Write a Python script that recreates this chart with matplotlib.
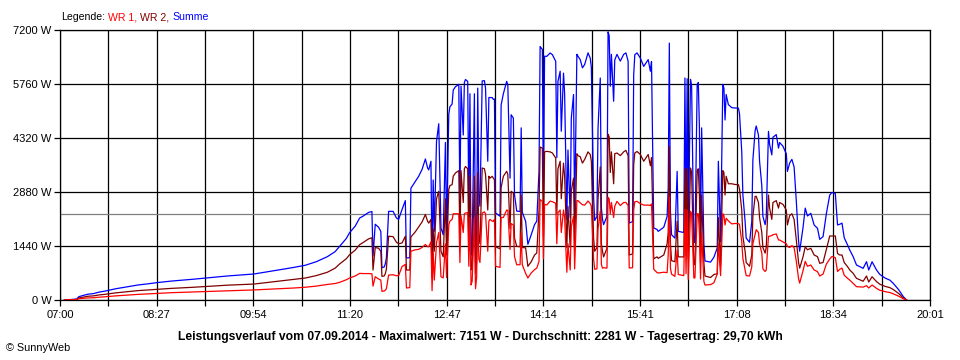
import numpy as np
import matplotlib
matplotlib.use("Agg")
import matplotlib.pyplot as plt

plt.rcParams['font.family'] = ['Liberation Sans', 'DejaVu Sans']

# Minuten nach 07:00
minuten = [
    4, 15, 17, 25, 30, 35, 40, 50, 60, 70,
    80, 87, 100, 120, 133, 150, 174, 190, 200, 210,
    220, 230, 240, 247, 251, 257, 260, 265, 269, 272,
    277, 280, 281, 283, 286, 288, 289, 291, 292, 293,
    295, 299, 302, 304, 307, 310, 311, 314, 315, 319,
    322, 325, 328, 330, 331, 333, 334, 335, 336, 338,
    340, 342, 344, 346, 347, 349, 350, 352, 353, 355,
    358, 359, 360, 362, 363, 364, 366, 367, 368, 369,
    370, 372, 373, 374, 375, 376, 377, 379, 381, 382,
    384, 385, 386, 388, 389, 390, 391, 395, 396, 398,
    401, 402, 404, 405, 407, 408, 410, 413, 414, 415,
    418, 420, 423, 426, 428, 430, 431, 433, 434, 435,
    437, 440, 442, 445, 446, 447, 449, 450, 452, 453,
    455, 456, 458, 459, 461, 462, 464, 465, 467, 469,
    471, 473, 474, 476, 477, 479, 480, 482, 483, 485,
    486, 487, 488, 491, 492, 493, 494, 495, 497, 498,
    500, 503, 506, 508, 510, 511, 514, 515, 516, 518,
    521, 524, 528, 530, 531, 533, 536, 537, 542, 545,
    546, 547, 548, 549, 552, 554, 555, 560, 561, 562,
    563, 564, 566, 567, 569, 570, 572, 573, 574, 575,
    576, 578, 579, 584, 587, 590, 591, 593, 595, 596,
    597, 598, 600, 603, 606, 609, 610, 612, 613, 615,
    616, 619, 621, 622, 624, 625, 627, 628, 630, 631,
    633, 634, 636, 637, 639, 640, 643, 645, 646, 649,
    652, 653, 655, 657, 659, 661, 663, 664, 667, 669,
    671, 674, 677, 680, 682, 685, 688, 691, 693, 696,
    698, 700, 702, 704, 707, 709, 712, 715, 718, 721,
    724, 726, 729, 733, 736, 741, 745, 748, 753, 757, 760,
]

# WR 2 (dunkelrot), Watt
wr2 = [
    0, 15, 55, 100, 110, 135, 150, 190, 220, 250,
    270, 285, 310, 340, 365, 395, 425, 480, 515, 550,
    585, 650, 740, 850, 960, 1100, 1209, 1330, 1476, 1530,
    1630, 1660, 800, 1400, 1380, 1300, 631, 640, 700, 820,
    1700, 1690, 1540, 1500, 1520, 1700, 800, 800, 1680, 1820,
    1950, 2080, 2280, 2100, 2050, 2150, 600, 1900, 1300, 2700,
    2900, 1300, 1150, 2700, 1200, 2950, 3050, 3076, 3300, 3387,
    3450, 1600, 3450, 2600, 3500, 3560, 3500, 1400, 3300, 800,
    900, 3300, 700, 1000, 3400, 1700, 1500, 3520, 3500, 3350,
    2400, 3300, 3250, 3298, 3250, 3210, 1420, 1364, 3000, 3300,
    3431, 3350, 1900, 2900, 2850, 1650, 1431, 1420, 2800, 1400,
    1390, 898, 1020, 1200, 1253, 2400, 4080, 4050, 1700, 3950,
    3964, 3950, 3920, 3787, 2300, 3500, 3700, 2700, 3650, 3300,
    1400, 2500, 1400, 2900, 3250, 1400, 3900, 3850, 3820, 3650,
    3750, 3880, 3950, 3880, 3700, 1650, 1300, 1400, 2700, 3550,
    1500, 1300, 1150, 1380, 4420, 4350, 3400, 3950, 3100, 3900,
    3920, 3850, 3950, 3990, 3850, 1200, 1230, 3600, 3920, 3960,
    3880, 3700, 3880, 3580, 3800, 1100, 1150, 1110, 1200, 1500,
    1800, 4100, 1500, 1050, 1020, 2100, 1150, 1150, 3500, 1200,
    3500, 1100, 3520, 3400, 942, 950, 3450, 3500, 2800, 1000,
    2800, 1000, 640, 600, 680, 700, 2200, 900, 3450, 3400,
    2800, 3300, 3100, 3100, 3080, 3076, 2960, 2400, 1700, 1300,
    1000, 900, 1200, 2231, 2764, 2764, 2600, 2200, 1800, 1400,
    1250, 1400, 2800, 2450, 2150, 2600, 2650, 2450, 2600, 2550,
    2400, 2000, 2250, 2300, 2150, 1600, 1000, 850, 1150, 1420,
    1340, 1378, 1200, 1156, 978, 1000, 1350, 1707, 1707, 1707,
    1240, 1200, 1200, 1000, 889, 800, 711, 578, 540, 500,
    640, 480, 620, 490, 420, 360, 330, 280, 170, 55, 0,
]

# WR 1 (rot), Watt
wr1 = [
    0, 10, 35, 55, 60, 75, 85, 110, 130, 150,
    165, 178, 195, 215, 228, 245, 268, 290, 305, 320,
    340, 370, 415, 440, 470, 540, 587, 640, 710, 705,
    705, 700, 370, 620, 560, 530, 230, 240, 260, 300,
    664, 674, 647, 650, 890, 950, 320, 330, 1300, 1340,
    1350, 1400, 1480, 1420, 1420, 1550, 250, 1300, 530, 1530,
    1800, 620, 590, 1500, 600, 2000, 2100, 2150, 2300, 2300,
    2300, 1000, 2250, 1800, 2300, 2320, 2330, 900, 2200, 400,
    500, 2200, 300, 600, 2250, 1100, 1000, 2320, 2350, 2300,
    1300, 2100, 2150, 2100, 2100, 2150, 900, 870, 2200, 2200,
    2400, 2390, 1350, 2040, 2000, 1160, 940, 940, 1790, 940,
    710, 587, 720, 809, 850, 1031, 2680, 2630, 1100, 2550,
    2534, 2637, 2622, 2577, 1500, 2330, 2400, 1800, 2400, 2200,
    740, 1500, 800, 1950, 2230, 830, 2650, 2650, 2590, 2540,
    2530, 2600, 2640, 2570, 2500, 1100, 820, 830, 1890, 2370,
    950, 850, 860, 850, 2731, 2700, 2300, 2600, 2200, 2500,
    2630, 2520, 2600, 2600, 2520, 853, 860, 2400, 2620, 2630,
    2570, 2530, 2530, 2520, 2560, 820, 730, 720, 740, 730,
    1200, 2750, 850, 690, 630, 1330, 680, 650, 2420, 700,
    2400, 550, 2364, 2300, 587, 590, 2300, 2300, 1800, 560,
    1790, 500, 400, 410, 460, 690, 1500, 650, 2300, 2250,
    2000, 2180, 2110, 2030, 2040, 2040, 2010, 1560, 1110, 800,
    650, 640, 880, 1500, 1750, 1876, 1800, 1500, 1250, 830,
    760, 800, 1698, 1700, 1720, 1740, 1760, 1600, 1600, 1550,
    1500, 1430, 1400, 1450, 1400, 1030, 570, 450, 780, 1030,
    900, 933, 800, 756, 640, 690, 960, 1093, 1160, 1130,
    760, 820, 850, 660, 578, 530, 445, 356, 350, 344,
    382, 320, 400, 310, 260, 220, 200, 165, 100, 35, 0,
]

durchschnitt = 2281
zeit_labels = ["07:00", "08:27", "09:54", "11:20", "12:47",
               "14:14", "15:41", "17:08", "18:34", "20:01"]
y_werte = [0, 1440, 2880, 4320, 5760, 7200]
x_ende = 781  # 07:00 .. 20:01

t = np.array(minuten)
p1 = np.array(wr1)
p2 = np.array(wr2)
summe = p1 + p2

fig = plt.figure(figsize=(9.6, 3.6), dpi=100)
ax = fig.add_axes([60 / 960, 60 / 360, 870 / 960, 270 / 360])

# Raster: 18 Felder, jedes zweite beschriftet
xticks = np.linspace(0, x_ende, 19)
xlabels = []
for i in range(19):
    xlabels.append(zeit_labels[i // 2] if i % 2 == 0 else "")
ax.set_xticks(xticks)
ax.set_xticklabels(xlabels)
ax.set_yticks(y_werte)
ax.set_yticklabels(["%d W" % v for v in y_werte])
ax.set_xlim(0, x_ende)
ax.set_ylim(0, 7200)
ax.grid(True, color='black', lw=0.9)
ax.set_axisbelow(True)
ax.tick_params(direction='out', length=4, width=0.9, color='black',
               labelsize=8, pad=2)
ax.tick_params(axis='x', pad=3)
for s in ax.spines.values():
    s.set_color('black')
    s.set_linewidth(0.9)

ax.axhline(durchschnitt, color='#808080', lw=0.9, zorder=1.5)

ax.plot(t, summe, color='#0000ff', lw=0.9, zorder=2)
ax.plot(t, p2, color='#800000', lw=0.9, zorder=3)
ax.plot(t, p1, color='#ff0000', lw=0.9, zorder=4)

# Legende oben links, farbige Woerter nebeneinander
renderer = fig.canvas.get_renderer()
x0 = 61 / 960
luecke = 3 / 960
teile = [("Legende:", 'black'), ("WR 1,", '#ff0000'),
         ("WR 2,", '#800000'), ("Summe", '#0000ff')]
for txt, col in teile:
    tx = fig.text(x0, 1 - 17 / 360, txt, color=col, fontsize=7.6, va='center')
    bb = tx.get_window_extent(renderer=renderer)
    x0 += bb.width / fig.bbox.width + luecke

fig.text(0.5, 1 - 337 / 360,
         "Leistungsverlauf vom 07.09.2014 - Maximalwert: 7151 W - "
         "Durchschnitt: 2281 W - Tagesertrag: 29,70 kWh",
         ha='center', va='center', fontsize=8.7, fontweight='bold')
fig.text(6 / 960, 1 - 348 / 360, "\u00a9 SunnyWeb", fontsize=7.8, va='center')

fig.savefig("out.png", dpi=100)
